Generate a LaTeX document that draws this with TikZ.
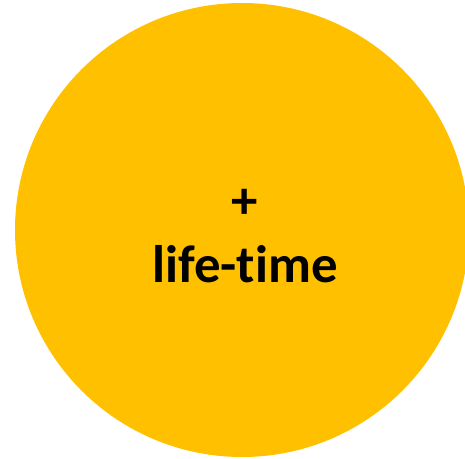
\documentclass[tikz,border=0pt]{standalone}
\usepackage{fontspec}
\setmainfont{Carlito}[Ligatures=NoCommon]
\usepackage{xcolor}
\usetikzlibrary{positioning}
\definecolor{gold}{HTML}{FFC000}

\begin{document}
\begin{tikzpicture}[
    x=1bp, y=-1bp,
    disc/.style={circle, fill=gold, draw=none, minimum size=454bp, inner sep=0pt},
    caption/.style={font=\fontsize{53}{64}\selectfont\bfseries, text=black, align=center}
]
\useasboundingbox (0,0) rectangle (465,459);

\node (disc) [disc] at (242,230) {};
\node (label) [caption] at (245,236) {+\\life-time};

\end{tikzpicture}
\end{document}
